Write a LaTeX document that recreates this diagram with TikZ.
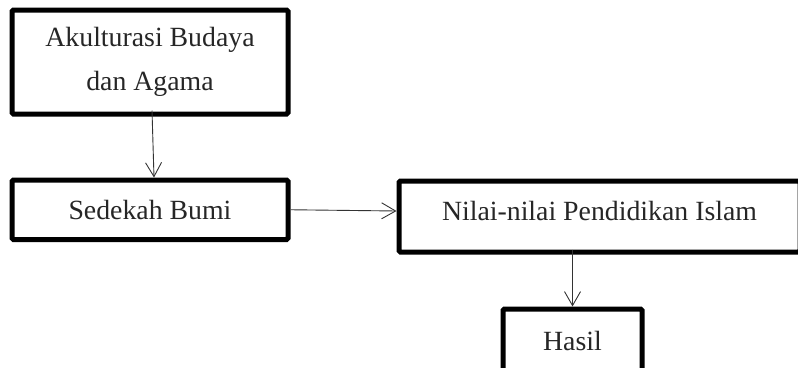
\documentclass[tikz,border=0pt]{standalone}
\usepackage{fontspec}
\setmainfont{Liberation Serif}
\usetikzlibrary{arrows.meta}
\begin{document}
\begin{tikzpicture}[x=1pt,y=-1pt,
  box/.style={draw=black, line width=5pt, rounded corners=1.5pt, inner sep=0pt,
    font=\fontsize{27.8}{43.5}\selectfont, text=black!85, align=center},
  arr/.style={draw=black!80, line width=0.9pt, -{Straight Barb[length=14pt,width=16pt,line width=0.9pt]}}]
\useasboundingbox (0,0) rectangle (798,367);
\clip (0,0) rectangle (798,367);
\node[box, minimum width=276pt, minimum height=104pt] (akul) at (150,62) {Akulturasi Budaya\\dan Agama};
\node[box, minimum width=276pt, minimum height=59.5pt] (sed) at (150,209.75) {Sedekah Bumi};
\node[box, minimum width=401pt, minimum height=71pt, text depth=12pt] (nilai) at (599.5,216.5) {Nilai-nilai Pendidikan Islam};
\node[box, minimum width=139pt, minimum height=63pt] (hasil) at (572.5,340.5) {Hasil};
\draw[arr] ([xshift=2pt,yshift=6pt]akul.south) -- ([xshift=4pt]sed.north);
\draw[arr] (sed.east) -- ([yshift=5.5pt]nilai.west);
\draw[arr] ([yshift=5pt]nilai.south -| hasil.north) -- (hasil.north);
\end{tikzpicture}
\end{document}
